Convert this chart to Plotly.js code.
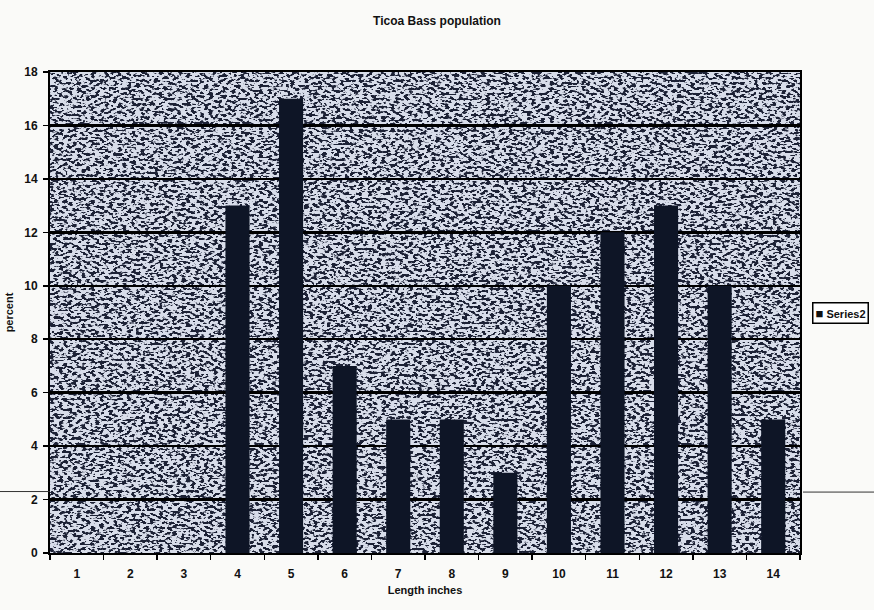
<!DOCTYPE html>
<html>
<head>
<meta charset="utf-8">
<script src="https://cdn.plot.ly/plotly-3.0.1.min.js"></script>
<style>
  html, body { margin: 0; padding: 0; background: #fafaf8; }
  #chart { width: 874px; height: 610px; }
</style>
</head>
<body>
<div id="chart"></div>
<script>
// Length classes (inches) and share of the catch in each class (percent)
const lengthInches = ["1", "2", "3", "4", "5", "6", "7", "8", "9", "10", "11", "12", "13", "14"];
const percentValues = [0, 0, 0, 13, 17, 7, 5, 5, 3, 10, 12, 13, 10, 5];
const yTickValues = [0, 2, 4, 6, 8, 10, 12, 14, 16, 18];
const seriesName = "Series2";

const fontFamily = "Liberation Sans, Arial, sans-serif";
const labelFont = { family: fontFamily, size: 11, color: "#111" };
const tickFont = { family: fontFamily, size: 12, color: "#111", weight: "bold" };

// Speckled "newsprint" fill for the plot area, made with SVG turbulence noise
// (a steep transfer table turns the noise into soft-edged dark and light flecks)
function speckleTable(darkVal, lightVal) {
  return (darkVal + " ").repeat(7) + (lightVal + " ").repeat(8);
}
const speckleSvg =
  '<svg xmlns="http://www.w3.org/2000/svg" width="750" height="481">' +
  '<filter id="n" x="0" y="0" width="100%" height="100%" color-interpolation-filters="sRGB">' +
  '<feTurbulence type="fractalNoise" baseFrequency="0.22 0.38" numOctaves="2" seed="7"/>' +
  '<feColorMatrix type="matrix" values="1 0 0 0 0  1 0 0 0 0  1 0 0 0 0  0 0 0 0 1"/>' +
  '<feComponentTransfer>' +
  '<feFuncR type="table" tableValues="' + speckleTable(0.11, 0.85) + '"/>' +
  '<feFuncG type="table" tableValues="' + speckleTable(0.13, 0.87) + '"/>' +
  '<feFuncB type="table" tableValues="' + speckleTable(0.21, 0.92) + '"/>' +
  '</feComponentTransfer>' +
  '</filter>' +
  '<rect width="100%" height="100%" filter="url(#n)"/>' +
  '</svg>';
const speckleUri = "data:image/svg+xml;charset=utf-8," + encodeURIComponent(speckleSvg);

const trace = {
  type: "bar",
  name: seriesName,
  x: lengthInches,
  y: percentValues,
  marker: { color: "#0e1526", line: { width: 0 } },
  showlegend: false
};

const layout = {
  width: 874,
  height: 610,
  paper_bgcolor: "#fafaf8",
  plot_bgcolor: "#8f939e",
  margin: { l: 50, r: 74, t: 72, b: 57, autoexpand: false },
  bargap: 0.55,
  title: {
    text: "<b>Ticoa Bass population</b>",
    font: { family: fontFamily, size: 12, color: "#111" },
    x: 0.5, xanchor: "center", y: 0.966, yanchor: "middle"
  },
  images: [{
    source: speckleUri,
    xref: "paper", yref: "paper",
    x: 0, y: 1, sizex: 1, sizey: 1,
    xanchor: "left", yanchor: "top",
    sizing: "stretch",
    layer: "below"
  }],
  xaxis: {
    type: "category",
    tickson: "boundaries",
    ticks: "outside",
    ticklen: 5,
    tickcolor: "#000",
    tickwidth: 1.5,
    ticklabelstandoff: 9,
    showline: true,
    linecolor: "#000",
    linewidth: 2,
    mirror: true,
    showgrid: false,
    tickfont: tickFont,
    title: { text: "<b>Length inches</b>", font: labelFont, standoff: 6 }
  },
  yaxis: {
    range: [0, 18],
    tickvals: yTickValues,
    ticks: "outside",
    ticklen: 5,
    tickcolor: "#000",
    tickwidth: 1.5,
    ticklabelstandoff: 3,
    showline: true,
    linecolor: "#000",
    linewidth: 2,
    mirror: true,
    showgrid: true,
    gridcolor: "#000",
    gridwidth: 2.5,
    zeroline: false,
    tickfont: tickFont,
    title: { text: "<b>percent</b>", font: labelFont, standoff: 8 }
  },
  // Compact series key to the right of the plot area
  annotations: [{
    xref: "paper", yref: "paper",
    x: 1.016, y: 0.5, xanchor: "left", yanchor: "middle",
    text: "<b><span style='font-size:13px'>■</span> " + seriesName + "</b>",
    showarrow: false,
    font: { family: fontFamily, size: 11, color: "#111" },
    bgcolor: "#ffffff",
    bordercolor: "#000",
    borderwidth: 1.5,
    borderpad: 2
  }],
  shapes: [
    { type: "line", xref: "paper", yref: "y", x0: -0.07, x1: 0, y0: 2.3, y1: 2.3,
      line: { color: "#333", width: 1 } },
    { type: "line", xref: "paper", yref: "y", x0: 1.004, x1: 1.1, y0: 2.28, y1: 2.28,
      line: { color: "#333", width: 1 } }
  ]
};

Plotly.newPlot("chart", [trace], layout, { displayModeBar: false, staticPlot: true });
</script>
</body>
</html>
